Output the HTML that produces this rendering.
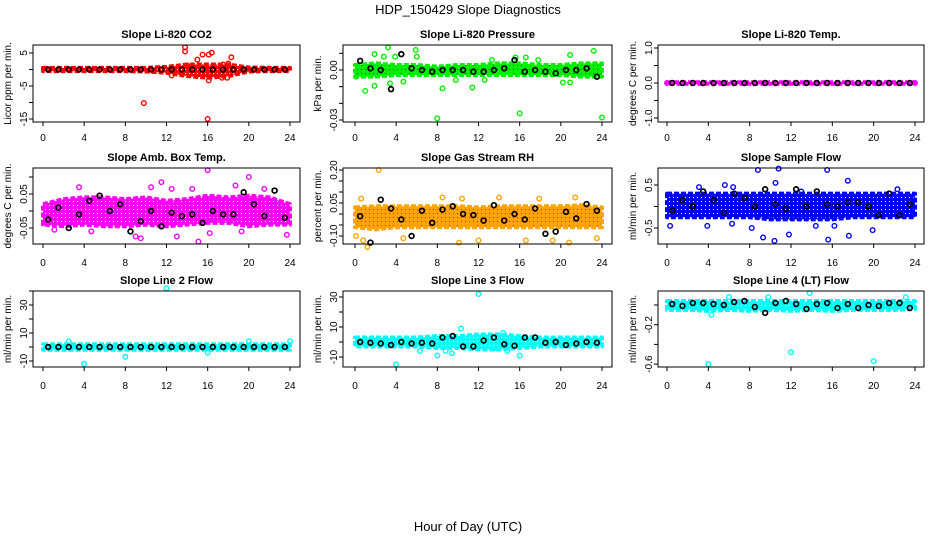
<!DOCTYPE html>
<html><head><meta charset="utf-8"><style>
html,body{margin:0;padding:0;background:#fff}
svg{display:block;font-family:"Liberation Sans",sans-serif}
</style></head><body>
<svg id="chart" width="936" height="540" viewBox="0 0 936 540">
<defs id="defs"></defs>
<text x="468" y="14" text-anchor="middle" font-size="13">HDP_150429  Slope Diagnostics</text>
<text x="468" y="531" text-anchor="middle" font-size="13">Hour of Day (UTC)</text>
</svg>
<script>
// ---- data (hours on x, slope values on y) ----
const xTicks=[0,4,8,12,16,20,24];
const bandHours=[0,2,4,6,8,10,12,14,16,18,20,22,24];
const meanHours=[0.5,1.5,2.5,3.5,4.5,5.5,6.5,7.5,8.5,9.5,10.5,11.5,12.5,13.5,14.5,15.5,16.5,17.5,18.5,19.5,20.5,21.5,22.5,23.5];

const co2Lo=[-0.5,-0.5,-0.5,-0.5,-0.5,-0.6,-1,-2,-2.5,-2,-0.6,-0.5,-0.5];
const co2Hi=[0.5,0.5,0.5,0.5,0.5,0.5,0.8,1.5,1.5,1.5,0.6,0.5,0.5];
const co2OutX=[9.8,13.8,13.8,15.5,15,16.1,16.4,18.3,16,16.1,17.4,17.9,12.5,17.5,18,14];
const co2OutY=[-10.2,6.7,5.5,4.5,3,4.5,5.1,3.7,-15,-3.3,-2.5,-2.5,-1.8,1.5,1.8,1.2];
const co2Mean=[0,0,0,0,0,0,0,0,0,0,0,0,0,0,0,0,0,0,0,0,0,0,0,0];

const presLo=[-0.004,-0.004,-0.003,-0.003,-0.003,-0.003,-0.003,-0.003,-0.003,-0.003,-0.003,-0.004,-0.004];
const presHi=[0.003,0.004,0.003,0.003,0.002,0.003,0.003,0.004,0.004,0.003,0.003,0.004,0.004];
const presOutX=[3.2,5.9,1.9,8,16,24,23.2,1,1.9,8.5,11.4,3.4,4.7,15.6,20.9,20.2,20.9,6,16.6,0.1,9.8,12.6,2.8,3.9,17.8,13.3];
const presOutY=[0.0135,0.012,0.0095,-0.029,-0.026,-0.0285,0.0115,-0.0125,-0.0095,-0.011,-0.0105,-0.008,-0.007,0.0075,0.009,-0.0075,-0.0075,0.008,0.0075,-0.004,-0.006,-0.006,0.008,0.008,0.006,0.006];
const presMean=[0.0055,0.001,0,-0.0115,0.0095,0.001,0,-0.001,0,0,0,-0.001,-0.001,0,0.001,0.006,-0.001,0,-0.001,-0.002,0,0,0.001,-0.004];

const tempLo=[-0.02,-0.02,-0.02,-0.02,-0.02,-0.02,-0.02,-0.02,-0.02,-0.02,-0.02,-0.02,-0.02];
const tempHi=[0.02,0.02,0.02,0.02,0.02,0.02,0.02,0.02,0.02,0.02,0.02,0.02,0.02];
const tempOutX=[0,24];
const tempOutY=[0,0];
const tempMean=[0,0,0,0,0,0,0,0,0,0,0,0,0,0,0,0,0,0,0,0,0,0,0,0];

const boxLo=[-0.04,-0.045,-0.04,-0.045,-0.045,-0.04,-0.045,-0.04,-0.035,-0.035,-0.045,-0.04,-0.04];
const boxHi=[0.02,0.035,0.04,0.04,0.035,0.04,0.03,0.035,0.045,0.04,0.045,0.04,0.02];
const boxOutX=[16,20,11.5,3.5,10.5,15.1,23.7,9,9.5,4.7,1.1,13,16.2,19.3,0.1,14.5,21.5,18.7,12.5];
const boxOutY=[0.12,0.1,0.085,0.07,0.07,-0.09,-0.07,-0.075,-0.08,-0.06,-0.055,-0.075,-0.065,-0.06,-0.035,0.065,0.065,0.075,0.065];
const boxMean=[-0.025,0.01,-0.05,-0.01,0.03,0.045,0,0.02,-0.06,-0.03,0,-0.045,-0.005,-0.015,-0.01,-0.035,0,-0.01,-0.01,0.055,0.02,-0.015,0.06,-0.02];

const rhLo=[-0.06,-0.07,-0.06,-0.06,-0.06,-0.06,-0.06,-0.06,-0.06,-0.06,-0.06,-0.06,-0.06];
const rhHi=[0.03,0.035,0.035,0.035,0.035,0.035,0.03,0.035,0.035,0.035,0.035,0.04,0.03];
const rhOutX=[2.3,0.6,1.2,0.8,0.1,10.1,12,16.6,19.2,20.8,8.5,14,21.4,17.9,10.4,4.7,23.5];
const rhOutY=[0.2,0.07,-0.15,-0.12,-0.1,-0.13,-0.12,-0.12,-0.12,-0.13,0.075,0.075,0.075,0.07,0.07,-0.11,-0.11];
const rhMean=[-0.01,-0.13,0.065,0.025,-0.025,-0.1,0.015,-0.04,0.02,0.035,0,-0.005,-0.03,0.04,-0.03,0,-0.025,0.025,-0.09,-0.08,0.01,-0.02,0.045,0.015];

const sfLo=[-0.25,-0.25,-0.25,-0.25,-0.25,-0.3,-0.3,-0.3,-0.3,-0.25,-0.25,-0.25,-0.25];
const sfHi=[0.3,0.3,0.3,0.3,0.3,0.3,0.3,0.3,0.3,0.3,0.3,0.3,0.3];
const sfOutX=[8.8,10.8,15.5,10.5,17.5,10.4,9.3,15.6,17.6,11.8,6.3,0.3,3.9,8.2,14.4,19.9,16.2,3.1,5.6,6.4,13,22.3];
const sfOutY=[0.85,0.88,0.85,0.55,0.6,-0.8,-0.72,-0.77,-0.68,-0.65,-0.4,-0.45,-0.45,-0.5,-0.45,-0.55,-0.45,0.45,0.5,0.45,0.35,0.4];
const sfMean=[-0.1,0.15,0.0,0.35,0.15,-0.15,0.3,0.2,0.0,0.4,0.05,-0.05,0.4,0.0,0.35,0.05,0.0,0.1,0.1,0.0,-0.2,0.3,-0.2,0.05];

const l2Lo=[-2,-2,-2,-2,-2,-2,-2,-2,-2,-2,-2,-2,-2];
const l2Hi=[2,2,2,2,2,2,2,2,2,2,2,2,2];
const l2OutX=[12,4,8,16,2.5,20,24];
const l2OutY=[42,-12,-7,-4,4,4,4];
const l2Mean=[0,0,0,0,0,0,0,0,0,0,0,0,0,0,0,0,0,0,0,0,0,0,0,0];

const l3Lo=[-3,-3,-3,-3,-4,-4,-5,-5,-4,-3,-3,-3,-3];
const l3Hi=[3,3,3,3,4,4,5,5,4,3,3,3,3];
const l3OutX=[12,4,8,16,10.3,14.4,8.8,6.3,9.4,13.7,14.8];
const l3OutY=[32,-15,-9,-9,9,6,-6,-6,-7.5,-4,-6];
const l3Mean=[0,-0.5,-1,-2,0,-1,-0.5,-1,3,4,-3,-3,1,3,-1.5,-2.5,3,3,-0.5,0,-2,-1,0,-0.5];

const l4Lo=[-0.05,-0.05,-0.06,-0.05,-0.06,-0.05,-0.06,-0.05,-0.06,-0.05,-0.05,-0.05,-0.04];
const l4Hi=[0.04,0.04,0.04,0.04,0.04,0.04,0.04,0.04,0.04,0.04,0.04,0.04,0.04];
const l4OutX=[4,12,20,13.8,6,9.8,23.1,4.3];
const l4OutY=[-0.6,-0.48,-0.57,0.12,0.08,0.08,0.08,-0.1];
const l4Mean=[0.01,-0.01,0.02,0.02,0.01,0,0.03,0.04,-0.02,-0.08,0.02,0.04,0.01,-0.04,0.01,0.02,-0.03,0.01,-0.03,0,-0.01,0.02,0.02,-0.03];

// ---- layout ----
const NS='http://www.w3.org/2000/svg';
const svg=document.getElementById('chart');
const defs=document.getElementById('defs');
const cols=[{L:33,R:300,x0:43,x24:290},{L:343,R:612,x0:355,x24:602},{L:658,R:924,x0:667,x24:915}];
const rows=[{T:45,B:122,title:34,tl:137},{T:168,B:244,title:157,tl:262},{T:291,B:367,title:280,tl:385}];
function el(tag,attrs,parent){const e=document.createElementNS(NS,tag);for(const k in attrs)e.setAttribute(k,attrs[k]);(parent||svg).appendChild(e);return e;}
let patN=0;
function pattern(bg,dot){
  const id='pat'+(patN++);
  const p=el('pattern',{id:id,width:4,height:4,patternUnits:'userSpaceOnUse'},defs);
  el('rect',{x:0,y:0,width:4,height:4,fill:bg},p);
  el('rect',{x:1,y:1,width:1,height:1,fill:dot},p);
  return 'url(#'+id+')';
}

const panels=[
 {name:'li820-co2',title:'Slope Li-820 CO2',ylab:'Licor ppm per min.',col:0,row:0,color:'#ff0000',dot:'#ffffff',y0:53,v0:5,s:3.3,ticks:[5,0,-5,-10,-15],labels:{'5':'5','-5':'-5','-15':'-15'},lo:co2Lo,hi:co2Hi,ox:co2OutX,oy:co2OutY,mean:co2Mean},
 {name:'li820-pressure',title:'Slope Li-820 Pressure',ylab:'kPa per min.',col:1,row:0,color:'#00ee00',dot:'#006600',y0:70,v0:0,s:1667,ticks:[0.01,0,-0.01,-0.02,-0.03],labels:{'0':'0.00','-0.03':'-0.03'},lo:presLo,hi:presHi,ox:presOutX,oy:presOutY,mean:presMean},
 {name:'li820-temp',title:'Slope Li-820 Temp.',ylab:'degrees C per min.',col:2,row:0,color:'#ff00ff',dot:'#ff00ff',y0:83,v0:0,s:35,ticks:[1,0.5,0,-0.5,-1],labels:{'1':'1.0','0':'0.0','-1':'-1.0'},lo:tempLo,hi:tempHi,ox:tempOutX,oy:tempOutY,mean:tempMean},
 {name:'amb-box-temp',title:'Slope Amb. Box Temp.',ylab:'degrees C per min.',col:0,row:1,color:'#ff00ff',dot:'#ffffff',y0:211,v0:0,s:340,ticks:[0.1,0.05,0,-0.05],labels:{'0.05':'0.05','-0.05':'-0.05'},lo:boxLo,hi:boxHi,ox:boxOutX,oy:boxOutY,mean:boxMean},
 {name:'gas-stream-rh',title:'Slope Gas Stream RH',ylab:'percent per min.',col:1,row:1,color:'#ffa500',dot:'#ff2000',y0:214,v0:0,s:220,ticks:[0.2,0.15,0.1,0.05,0,-0.05,-0.1],labels:{'0.2':'0.20','0.05':'0.05','-0.1':'-0.10'},lo:rhLo,hi:rhHi,ox:rhOutX,oy:rhOutY,mean:rhMean},
 {name:'sample-flow',title:'Slope Sample Flow',ylab:'ml/min per min.',col:2,row:1,color:'#0000ff',dot:'#ffffff',y0:206.5,v0:0,s:43,ticks:[0.5,0,-0.5],labels:{'0.5':'0.5','-0.5':'-0.5'},lo:sfLo,hi:sfHi,ox:sfOutX,oy:sfOutY,mean:sfMean},
 {name:'line2-flow',title:'Slope Line 2 Flow',ylab:'ml/min per min.',col:0,row:2,color:'#00ffff',dot:'#ffffff',y0:347,v0:0,s:1.4,ticks:[40,30,20,10,0,-10],labels:{'30':'30','10':'10','-10':'-10'},lo:l2Lo,hi:l2Hi,ox:l2OutX,oy:l2OutY,mean:l2Mean},
 {name:'line3-flow',title:'Slope Line 3 Flow',ylab:'ml/min per min.',col:1,row:2,color:'#00ffff',dot:'#ffffff',y0:342,v0:0,s:1.5,ticks:[30,20,10,0,-10],labels:{'30':'30','10':'10','-10':'-10'},lo:l3Lo,hi:l3Hi,ox:l3OutX,oy:l3OutY,mean:l3Mean},
 {name:'line4-lt-flow',title:'Slope Line 4 (LT) Flow',ylab:'ml/min per min.',col:2,row:2,color:'#00ffff',dot:'#ffffff',y0:305,v0:0,s:98.5,ticks:[0,-0.2,-0.4,-0.6],labels:{'-0.2':'-0.2','-0.6':'-0.6'},lo:l4Lo,hi:l4Hi,ox:l4OutX,oy:l4OutY,mean:l4Mean}
];

panels.forEach(p=>{
  const c=cols[p.col], r=rows[p.row];
  const xs=h=>c.x0+(c.x24-c.x0)*h/24;
  const ys=v=>p.y0-(v-p.v0)*p.s;
  const g=el('g',{});
  
  
  const t=el('text',{x:(c.L+c.R)/2,y:r.title+4,'text-anchor':'middle','font-size':11,'font-weight':'bold'},g);
  t.textContent=p.title;
  
  
  const yl=el('text',{x:0,y:0,'text-anchor':'middle','font-size':10,transform:`translate(${c.L-22},${(r.T+r.B)/2}) rotate(-90)`},g);
  yl.textContent=p.ylab;
  
  
  const fill=pattern(p.color,p.dot);
  const pts=p.hi.map((v,i)=>xs(bandHours[i])+','+ys(v));
  const lowPts=p.lo.map((v,i)=>xs(bandHours[i])+','+ys(v)).reverse();
  const band=el('polygon',{points:pts.concat(lowPts).join(' '),fill:fill,stroke:p.color,'stroke-width':4,'stroke-linejoin':'round','stroke-dasharray':'5 2'},g);
  
  
  p.ox.forEach((h,i)=>{
    const o=el('circle',{cx:xs(h),cy:ys(p.oy[i]),r:2.3,fill:'none',stroke:p.color,'stroke-width':1.4},g);
    
    
  });
  p.mean.forEach((v,i)=>{
    const m=el('circle',{cx:xs(meanHours[i]),cy:ys(v),r:2.4,fill:'none',stroke:'#000','stroke-width':1.7},g);
    
    
  });
  const box=el('rect',{x:c.L,y:r.T,width:c.R-c.L,height:r.B-r.T,fill:'none',stroke:'#000','stroke-width':1},g);
  
  
  xTicks.forEach(h=>{
    el('line',{x1:xs(h),x2:xs(h),y1:r.B,y2:r.B+4,stroke:'#000'},g);
    const tl=el('text',{x:xs(h),y:r.tl+4,'text-anchor':'middle','font-size':10},g);
    tl.textContent=h;
    
    
  });
  p.ticks.forEach(v=>{
    const y=ys(v);
    el('line',{x1:c.L-4,x2:c.L,y1:y,y2:y,stroke:'#000'},g);
    const lab=p.labels[String(v)];
    if(lab){
      const tl=el('text',{x:0,y:0,'text-anchor':'middle','font-size':10,transform:`translate(${c.L-6},${y}) rotate(-90)`},g);
      tl.textContent=lab;
      
      
    }
  });
});
</script>
</body></html>
